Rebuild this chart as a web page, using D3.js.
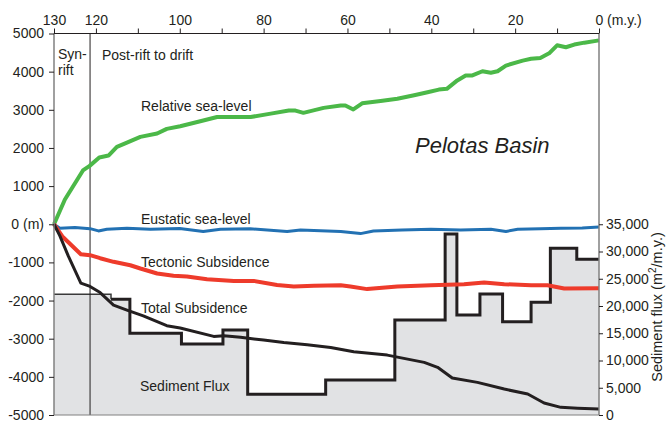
<!DOCTYPE html>
<html>
<head>
<meta charset="utf-8">
<script src="https://cdn.jsdelivr.net/npm/d3@7"></script>
<style>
  body { margin: 0; background: #fff; }
  text { font-family: "Liberation Sans", Arial, sans-serif; fill: #231f20; }
</style>
</head>
<body>
<div id="chart"></div>
<script>
// relative sea-level (m)
const relAge = [130, 127.4, 123.1, 121.5, 119.2, 117, 115, 112.6, 109.4, 105.4, 103.1, 99.9, 95.1, 91.1, 83.1,
  78.3, 74, 72.4, 70.5, 65.7, 61.6, 60.5, 58.6, 56.5, 52.1, 48.1, 44.1, 40.9, 38.2, 36.3, 33.8, 31.8, 30.2,
  27.8, 25.8, 24.2, 22.2, 18.2, 16.2, 14, 11.9, 10, 7.9, 5.9, 3.5, 0];
const relSea = [0, 650, 1410, 1530, 1750, 1800, 2030, 2140, 2290, 2380, 2500, 2570, 2700, 2810, 2810,
  2900, 2980, 2980, 2920, 3050, 3110, 3115, 3010, 3170, 3230, 3290, 3380, 3460, 3530, 3550, 3770, 3900, 3900,
  4010, 3970, 4010, 4160, 4290, 4340, 4360, 4480, 4690, 4640, 4710, 4760, 4820];

// eustatic sea-level (m)
const eusAge = [130, 128.6, 125, 121.4, 119.4, 117.4, 112.6, 107, 100, 94.4, 90.3, 83.2, 74.4, 71.2, 61.6,
  56.9, 53.8, 47, 40.1, 33, 25.8, 22.2, 19.4, 14, 9.1, 4, 0];
const eusSea = [0, -105, -85, -115, -175, -130, -105, -130, -110, -190, -130, -120, -190, -150, -190,
  -245, -175, -150, -130, -150, -130, -190, -130, -120, -105, -100, -70];

// tectonic subsidence (m)
const tecAge = [130, 128, 123.6, 121.4, 119, 115.8, 111.8, 109.4, 105.4, 101.5, 98.3, 93.5, 87.1, 82.4,
  76.8, 72.8, 68, 61.6, 59.3, 55.3, 48.1, 40.1, 32.2, 27.4, 22.6, 16.2, 12.3, 8.3, 0];
const tecSub = [0, -320, -785, -810, -890, -985, -1075, -1160, -1290, -1350, -1370, -1440, -1485, -1485,
  -1590, -1630, -1615, -1600, -1630, -1700, -1630, -1600, -1570, -1525, -1570, -1600, -1600, -1685, -1675];

// total subsidence (m)
const totAge = [130, 128.6, 126.6, 123.6, 121.4, 119, 115.8, 112.6, 108.7, 103.1, 99.9, 91.9, 89.5, 85.5,
  80, 75.2, 69.6, 64, 58.5, 50.5, 41.7, 38.5, 35, 29, 22.6, 17, 13.1, 9.1, 5.1, 0];
const totSub = [0, -305, -830, -1545, -1630, -1790, -2120, -2250, -2400, -2660, -2720, -2940, -2925, -2965,
  -3035, -3100, -3160, -3230, -3340, -3430, -3620, -3750, -4030, -4145, -4320, -4450, -4685, -4800, -4825, -4845];

// sediment flux (m2/m.y.), step starting at each age
const fluxAge = [130, 116.4, 111.9, 99.6, 89.7, 83.8, 65.2, 48.7, 36.7, 33.9, 28.4, 23.0, 16.2, 11.6, 5.3, 0];
const fluxVal = [22150, 21230, 15000, 13030, 15600, 3800, 6420, 17430, 33200, 18350, 22200, 17120, 20680,
  30590, 28570, 28570];

const ageTicks = [130, 120, 110, 100, 90, 80, 70, 60, 50, 40, 30, 20, 10, 0];
const ageLabels = [130, 120, 100, 80, 60, 40, 20, 0];
const elevTicks = [5000, 4000, 3000, 2000, 1000, 0, -1000, -2000, -3000, -4000, -5000];
const fluxTicks = [0, 5000, 10000, 15000, 20000, 25000, 30000, 35000];
const riftAge = 121.4;

const width = 670;
const height = 423;
const plotL = 54;
const plotR = 599;
const plotT = 33.5;
const plotB = 415;

const svg = d3.select('#chart').append('svg')
  .attr('width', width)
  .attr('height', height);

const x = d3.scaleLinear().domain([130, 0]).range([plotL, plotR]);
const y = d3.scaleLinear().domain([-5000, 5000]).range([plotB, plotT]);
const yFlux = d3.scaleLinear().domain([0, 70000]).range([plotB, plotT]);

// sediment flux area
const fluxPts = fluxAge.map((a, i) => [a, fluxVal[i]]);
svg.append('path')
  .datum(fluxPts)
  .attr('fill', '#e1e2e4')
  .attr('d', d3.area().curve(d3.curveStepAfter)
    .x((d) => x(d[0])).y0(plotB).y1((d) => yFlux(d[1])));

// first interval drawn thin, rest thick
const stepLine = d3.line().curve(d3.curveStepAfter).x((d) => x(d[0])).y((d) => yFlux(d[1]));
svg.append('path')
  .datum(fluxPts.slice(0, 2))
  .attr('fill', 'none')
  .attr('stroke', '#3a3a3a')
  .attr('stroke-width', 1.5)
  .attr('d', stepLine);
svg.append('path')
  .datum(fluxPts.slice(1))
  .attr('fill', 'none')
  .attr('stroke', '#231f20')
  .attr('stroke-width', 3)
  .attr('d', stepLine);

// syn-rift boundary
svg.append('line')
  .attr('x1', x(riftAge)).attr('x2', x(riftAge))
  .attr('y1', plotT).attr('y2', plotB)
  .attr('stroke', '#231f20').attr('stroke-width', 1);

const line = d3.line().x((d) => x(d[0])).y((d) => y(d[1]));
const curves = [
  [relAge, relSea, '#4bb848', 4],
  [eusAge, eusSea, '#2271b3', 3],
  [tecAge, tecSub, '#ee3b2b', 4],
  [totAge, totSub, '#231f20', 3],
];
curves.forEach(([ages, vals, col, w]) => {
  svg.append('path')
    .datum(ages.map((a, i) => [a, vals[i]]))
    .attr('fill', 'none')
    .attr('stroke', col)
    .attr('stroke-width', w)
    .attr('stroke-linejoin', 'round')
    .attr('d', line);
});

// frame sides
svg.append('line').attr('x1', plotL).attr('x2', plotL).attr('y1', plotT).attr('y2', plotB)
  .attr('stroke', '#808080').attr('stroke-width', 1.5);
svg.append('line').attr('x1', plotR).attr('x2', plotR).attr('y1', plotT).attr('y2', plotB)
  .attr('stroke', '#808080').attr('stroke-width', 1.5);
svg.append('line').attr('x1', plotL).attr('x2', plotR).attr('y1', plotB).attr('y2', plotB)
  .attr('stroke', '#808080').attr('stroke-width', 1);

// axes
const styleAxis = (g) => {
  g.select('.domain').remove();
  g.selectAll('.tick line').attr('stroke', '#231f20');
  g.selectAll('.tick text').attr('font-size', 14).attr('fill', '#231f20')
    .attr('font-family', '"Liberation Sans", Arial, sans-serif');
};

svg.append('g')
  .attr('transform', `translate(0,${plotT})`)
  .call(d3.axisTop(x).tickValues(ageTicks).tickSize(5).tickPadding(4)
    .tickFormat((d) => (ageLabels.includes(d) ? d : '')))
  .call(styleAxis);
svg.append('line').attr('x1', plotL).attr('x2', plotR).attr('y1', plotT).attr('y2', plotT)
  .attr('stroke', '#231f20').attr('stroke-width', 1.2);
svg.append('text').attr('x', 607).attr('y', plotT - 9).attr('font-size', 14).text('(m.y.)');

svg.append('g')
  .attr('transform', `translate(${plotL},0)`)
  .call(d3.axisLeft(y).tickValues(elevTicks).tickSize(5).tickPadding(5)
    .tickFormat((d) => (d === 0 ? '0 (m)' : d)))
  .call(styleAxis);

svg.append('g')
  .attr('transform', `translate(${plotR},0)`)
  .call(d3.axisRight(yFlux).tickValues(fluxTicks).tickSize(4).tickPadding(3)
    .tickFormat(d3.format(',')))
  .call(styleAxis);

const fluxLabel = svg.append('text')
  .attr('transform', 'translate(662,307) rotate(-90)')
  .attr('text-anchor', 'middle')
  .attr('font-size', 14.5);
fluxLabel.append('tspan').text('Sediment flux (m');
fluxLabel.append('tspan').attr('font-size', 10).attr('dy', -6).text('2');
fluxLabel.append('tspan').attr('dy', 6).text('/m.y.)');

// annotations
const notes = [
  ['Syn-', 58, 59], ['rift', 58, 74.5], ['Post-rift to drift', 102, 60],
  ['Relative sea-level', 141, 111], ['Eustatic sea-level', 141, 224],
  ['Tectonic Subsidence', 141, 267], ['Total Subsidence', 141, 313], ['Sediment Flux', 140, 391],
];
notes.forEach(([t, tx, ty]) => {
  svg.append('text').attr('x', tx).attr('y', ty).attr('font-size', 14).text(t);
});
svg.append('text').attr('x', 415).attr('y', 153)
  .attr('font-size', 22).attr('font-style', 'italic').text('Pelotas Basin');
</script>
</body>
</html>
